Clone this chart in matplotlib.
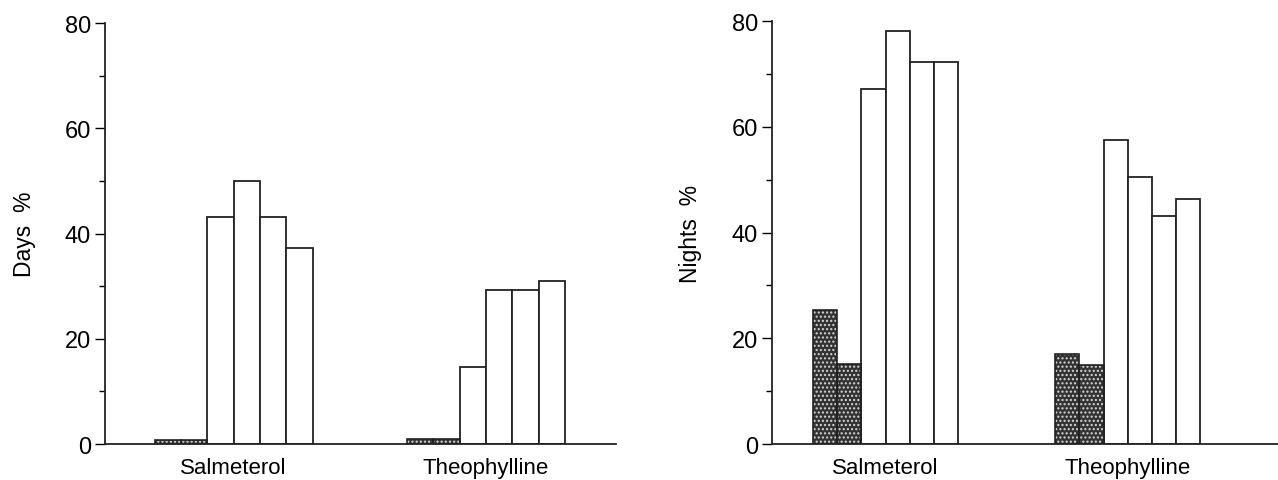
import numpy as np
import matplotlib.pyplot as plt

plt.rcParams['font.family'] = ['Liberation Sans', 'DejaVu Sans']

groups = ['Salmeterol', 'Theophylline']

# six bars per group: first two hatched, last four open
days_salm = [0.8, 0.8, 43.2, 50.0, 43.2, 37.2]
days_theo = [0.9, 0.9, 14.7, 29.2, 29.2, 31.0]
nights_salm = [25.4, 15.2, 67.2, 78.2, 72.2, 72.2]
nights_theo = [17.1, 15.0, 57.6, 50.5, 43.1, 46.4]

hatched = [True, True, False, False, False, False]


def panel(ax, series, centers, xlim, ylabel):
    offs = np.arange(6) - 2.5
    for c, vals in zip(centers, series):
        for o, v, h in zip(offs, vals, hatched):
            if h:
                ax.bar(c + o, v, width=1, facecolor='#333333', edgecolor='#d8d8d8',
                       hatch='....', linewidth=0, zorder=2)
                ax.bar(c + o, v, width=1, fill=False, edgecolor='#222222',
                       linewidth=1.2, zorder=3)
            else:
                ax.bar(c + o, v, width=1, facecolor='white', edgecolor='#222222',
                       linewidth=1.3, zorder=2)
    ax.set_xlim(*xlim)
    ax.set_ylim(0, 80)
    ax.set_yticks([0, 20, 40, 60, 80])
    ax.set_yticks([10, 30, 50, 70], minor=True)
    ax.set_xticks(centers)
    ax.set_xticklabels(groups, fontsize=16)
    ax.tick_params(axis='x', length=0, pad=9)
    ax.tick_params(axis='y', which='major', length=7, width=1, labelsize=17, pad=3)
    ax.tick_params(axis='y', which='minor', length=4, width=1)
    for s in ['top', 'right']:
        ax.spines[s].set_visible(False)
    for s in ['left', 'bottom']:
        ax.spines[s].set_linewidth(1.3)
        ax.spines[s].set_color('#222222')
    ax.set_ylabel(ylabel, fontsize=16.5, labelpad=21)


fig = plt.figure(figsize=(12.78, 4.81), dpi=100)
ax1 = fig.add_axes([0.0822, 0.0748, 0.3998, 0.875])
ax2 = fig.add_axes([0.604, 0.0748, 0.396, 0.879])

panel(ax1, [days_salm, days_theo], [0, 9.6], (-4.89, 14.54), 'Days  %')
panel(ax2, [nights_salm, nights_theo], [0, 10.0], (-4.69, 16.2), 'Nights  %')

fig.savefig('out.png', dpi=100)
